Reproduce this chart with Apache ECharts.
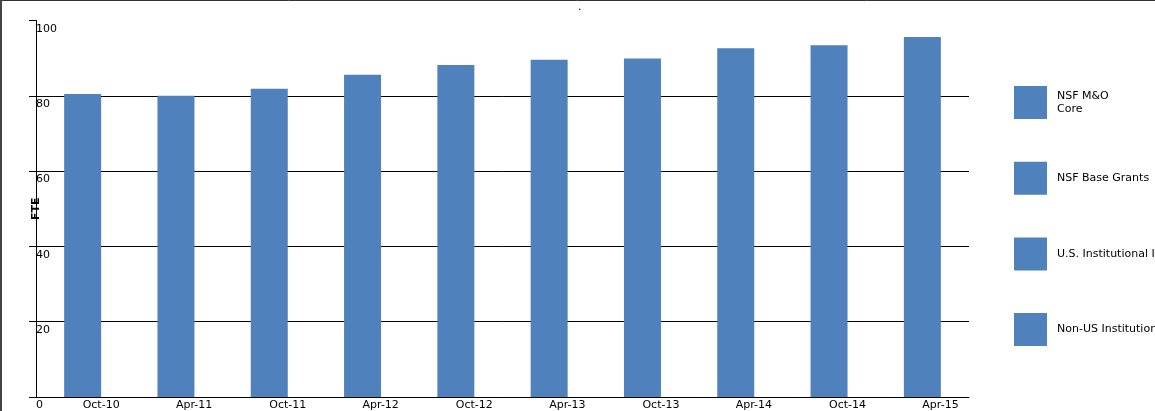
<!DOCTYPE html>
<html>
<head>
<meta charset="utf-8">
<script src="https://cdn.jsdelivr.net/npm/echarts@6/dist/echarts.min.js"></script>
<style>
html,body{margin:0;padding:0;background:#fff;}
#chart{width:1155px;height:411px;}
</style>
</head>
<body>
<div id="chart"></div>
<script>
const categories = ['Oct-10','Apr-11','Oct-11','Apr-12','Oct-12','Apr-13','Oct-13','Apr-14','Oct-14','Apr-15'];
const seriesNames = ['NSF M&O\nCore','NSF Base Grants','U.S. Institutional In-Kind','Non-US Institutional In-Kind'];
const nsfMOCore = [80.5, 80.0, 81.9, 85.6, 88.2, 89.6, 89.9, 92.6, 93.4, 95.6];
const nsfBaseGrants = [null, null, null, null, null, null, null, null, null, null];
const usInKind = [null, null, null, null, null, null, null, null, null, null];
const nonUsInKind = [null, null, null, null, null, null, null, null, null, null];
const yTicks = { min: 0, max: 100, interval: 20 };

const font = 'DejaVu Sans';
const color = '#4F81BD';
const seriesData = [nsfMOCore, nsfBaseGrants, usInKind, nonUsInKind];

const chart = echarts.init(document.getElementById('chart'), null, {renderer: 'canvas'});
chart.setOption({
  animation: false,
  backgroundColor: '#fff',
  color: [color, color, color, color],
  title: {
    text: '.',
    left: 573,
    top: -3,
    textStyle: {fontFamily: font, fontSize: 11, fontWeight: 'normal', color: '#000'}
  },
  grid: {left: 36, right: 186, top: 20.5, bottom: 12.7, containLabel: false},
  legend: {
    orient: 'vertical',
    left: 1014,
    top: 86,
    padding: 0,
    itemWidth: 33,
    itemHeight: 33,
    itemGap: 42.7,
    icon: 'rect',
    textStyle: {fontFamily: font, fontSize: 11, color: '#000', lineHeight: 13, padding: [-6, 0, 6, 5]},
    data: seriesNames
  },
  xAxis: {
    type: 'category',
    data: categories,
    axisLine: {lineStyle: {color: '#000', width: 1}},
    axisTick: {show: false},
    axisLabel: {
      align: 'left',
      margin: 3,
      fontFamily: font,
      fontSize: 11,
      color: '#000'
    },
    splitLine: {show: false}
  },
  yAxis: {
    type: 'value',
    min: yTicks.min,
    max: yTicks.max,
    interval: yTicks.interval,
    name: 'FTE',
    nameLocation: 'middle',
    nameRotate: 90,
    nameGap: -6,
    nameMoveOverlap: false,
    nameTextStyle: {fontFamily: font, fontSize: 11, fontWeight: 'bold', color: '#000'},
    axisLine: {show: true, lineStyle: {color: '#000', width: 1}},
    axisTick: {show: true, inside: false, length: 7, lineStyle: {color: '#000'}},
    axisLabel: {
      inside: true,
      margin: 0,
      align: 'left',
      verticalAlign: 'top',
      padding: [3, 0, 0, 0],
      fontFamily: font,
      fontSize: 11,
      color: '#000'
    },
    splitLine: {show: true, showMaxLine: false, lineStyle: {color: '#000', width: 1}}
  },
  series: seriesNames.map((n, i) => ({
    name: n,
    type: 'bar',
    stack: 'total',
    barWidth: 37,
    data: seriesData[i],
    itemStyle: {color: color}
  })),
  graphic: [
    {type: 'line', shape: {x1: 0, y1: 0.5, x2: 1155, y2: 0.5}, style: {stroke: '#333', lineWidth: 1}, silent: true},
    {type: 'line', shape: {x1: 1, y1: 0, x2: 1, y2: 411}, style: {stroke: '#444', lineWidth: 2}, silent: true}
  ]
});
</script>
</body>
</html>
